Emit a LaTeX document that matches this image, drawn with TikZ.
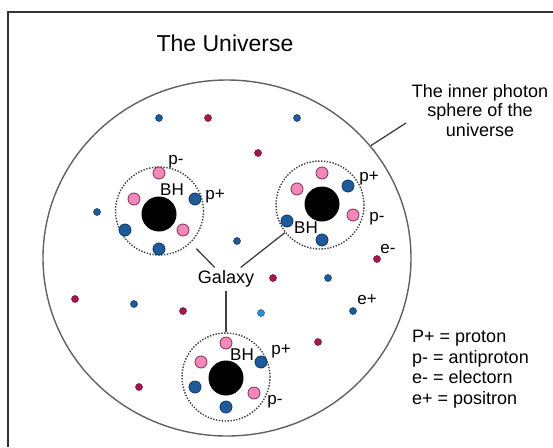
\documentclass[tikz,border=0pt]{standalone}
\usepackage{fontspec}
\setmainfont{Liberation Sans}
\usetikzlibrary{shapes.geometric}
\definecolor{protblue}{HTML}{1D5B9B}
\definecolor{protline}{HTML}{0F3662}
\definecolor{antipink}{HTML}{F387B8}
\definecolor{antiline}{HTML}{7A3356}
\definecolor{elecred}{HTML}{A3184F}
\definecolor{elecline}{HTML}{6A0F33}
\definecolor{lightpos}{HTML}{2A8FD0}
\begin{document}
\begin{tikzpicture}[x=1pt, y=-1pt,
  rim/.style={draw=black!62, line width=1.4pt},
  conn/.style={draw=black!75, line width=1.3pt},
  galrim/.style={circle, draw=black!75, dash pattern=on 1.4pt off 1.5pt, line width=1.4pt, minimum size=88},
  txt/.style={inner sep=0pt, font=\fontsize{18}{19.5}\selectfont},
  lbl/.style={inner sep=0pt, font=\fontsize{17}{17}\selectfont},
  pplus/.style={fill=protblue, draw=protline, line width=0.8pt},
  pminus/.style={fill=antipink, draw=antiline, line width=0.8pt},
  eminus/.style={fill=elecred, draw=elecline, line width=0.5pt},
  eplus/.style={fill=protblue, draw=protline, line width=0.5pt}]
\def\rbh{17.5} % Radius schwarzes Loch
\def\rp{6}     % Radius Proton/Antiproton
\def\re{3.5}   % Radius Elektron/Positron
\useasboundingbox (0,0) rectangle (553,447);
% Rahmen und Titel
\draw[line width=1.5pt, black!80] (8,447) -- (8,12) -- (553,12);
\node[inner sep=0pt, font=\fontsize{23}{23}\selectfont] (title) at (225,43.5) {The Universe};
% innere Photonensphaere
\node[ellipse, rim, minimum width=368, minimum height=356] (univ) at (227,258) {};
\node[txt, align=center, anchor=north] (sph) at (480,84) {The inner photon\\sphere of the\\universe};
\coordinate (sphend) at (406,123);
\draw[conn] (univ.38) -- (sphend);
% freie Elektronen und Positronen
\foreach \x/\y in {159/118, 297/118, 97/212, 237/241, 328/278, 134/304, 353/311}
  \filldraw[eplus] (\x,\y) circle (\re);
\foreach \x/\y in {208/118, 258/153, 377/259, 273/278, 75/299, 183/311, 318/342, 139/387}
  \filldraw[eminus] (\x,\y) circle (\re);
\filldraw[fill=lightpos, draw=lightpos!70!black, line width=0.5pt] (261,313) circle (\re);
\node[lbl] (em) at (388,249) {e-};
\node[lbl] (ep) at (367,300) {e+};
% Galaxien
\node[galrim] (g1) at (159.5,211) {};
\node[galrim] (g2) at (320,205) {};
\node[galrim] (g3) at (226,377) {};
\coordinate (BH1) at (159,214);
\coordinate (BH2) at (322,204);
\coordinate (BH3) at (226,378);
\fill (BH1) circle (\rbh);
\fill (BH2) circle (\rbh);
\fill (BH3) circle (\rbh);
% Galaxie 1
\filldraw[pminus] (159,173) circle (\rp);
\filldraw[pminus] (134,199) circle (\rp);
\filldraw[pplus]  (195,199) circle (\rp);
\filldraw[pplus]  (125,230) circle (\rp);
\filldraw[pminus] (183,230) circle (\rp);
\filldraw[pplus]  (159,249) circle (\rp);
\node[lbl] (pm1) at (176,162) {p-};
\node[lbl] (bh1) at (172,190) {BH};
\node[lbl] (pp1) at (215,196) {p+};
% Galaxie 2
\filldraw[pminus] (322,173) circle (\rp);
\filldraw[pminus] (297,189) circle (\rp);
\filldraw[pplus]  (348,186) circle (\rp);
\filldraw[pplus]  (287,221) circle (\rp);
\filldraw[pminus] (353,215) circle (\rp);
\filldraw[pplus]  (322,240) circle (\rp);
\node[lbl] (pp2) at (369,178) {p+};
\node[lbl] (pm2) at (377,219) {p-};
\node[lbl] (bh2) at (306,228) {BH};
% Galaxie 3
\filldraw[pminus] (226,343) circle (\rp);
\filldraw[pminus] (201,362) circle (\rp);
\filldraw[pplus]  (261,362) circle (\rp);
\filldraw[pplus]  (195,387) circle (\rp);
\filldraw[pminus] (254,393) circle (\rp);
\filldraw[pplus]  (226,407) circle (\rp);
\node[lbl] (bh3) at (242,355) {BH};
\node[lbl] (pp3) at (281,351) {p+};
\node[lbl] (pm3) at (275,402) {p-};
% Beschriftung Galaxy
\node[txt, inner sep=3pt] (gal) at (226,279) {Galaxy};
\draw[conn, shorten <=8pt] (g1) -- (gal);
\draw[conn] (g2) -- (gal);
\draw[conn] (gal) -- (g3);
% Legende
\node[inner sep=0pt, font=\fontsize{18}{20.7}\selectfont, align=left, anchor=north west] (key) at (412,330)
  {P+ = proton\\p- = antiproton\\e- = electorn\\e+ = positron};
\end{tikzpicture}
\end{document}
